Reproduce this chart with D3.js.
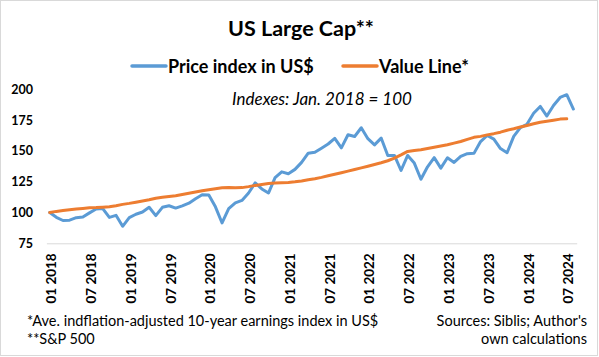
<!DOCTYPE html>
<html>
<head>
<meta charset="utf-8">
<script src="https://cdn.jsdelivr.net/npm/d3@7"></script>
<style>
  html, body { margin: 0; padding: 0; background: #fff; }
  svg { display: block; font-family: Lato, "Open Sans", sans-serif; }
</style>
</head>
<body>
<svg id="chart" width="599" height="357"></svg>
<script>
// ---- data ----
const startMonth = new Date(2018, 0, 1);
const endMonth = new Date(2024, 8, 1);
const months = d3.timeMonth.range(startMonth, endMonth); // Jan 2018 .. Aug 2024 (80)

const priceIndex = [
  100.0, 96.1, 93.5, 93.8, 95.8, 96.3, 99.7, 102.8, 103.2, 96.0, 97.7, 88.8,
  95.8, 98.6, 100.4, 104.3, 97.5, 104.2, 105.5, 103.6, 105.4, 107.6, 111.2, 114.4,
  114.2, 104.6, 91.5, 103.1, 107.8, 109.8, 115.8, 124.0, 119.1, 115.8, 128.3, 133.0,
  131.5, 135.0, 140.7, 148.1, 148.9, 152.2, 155.6, 160.2, 152.5, 163.1, 161.7, 168.8,
  159.9, 154.9, 160.4, 146.3, 146.3, 134.1, 146.3, 140.1, 127.0, 137.1, 144.5, 136.0,
  144.4, 140.6, 145.5, 147.7, 148.0, 157.6, 162.5, 159.6, 151.9, 148.5, 161.8, 168.9,
  171.6, 180.5, 186.1, 178.3, 186.9, 193.4, 195.6, 184.0
];

const valueLine = [
  100.0, 100.9, 101.6, 102.3, 102.8, 103.3, 103.9, 104.0, 104.3, 104.7, 105.5, 106.6,
  107.4, 108.4, 109.3, 110.3, 111.6, 112.3, 113.0, 113.6, 114.6, 115.6, 116.6, 117.6,
  118.5, 119.3, 120.0, 120.3, 120.0, 120.2, 121.0, 122.0, 122.8, 123.6, 124.0, 124.2,
  124.4, 124.9, 125.6, 126.6, 127.4, 128.5, 129.8, 131.0, 132.3, 133.6, 134.9, 136.2,
  137.6, 139.0, 140.4, 142.0, 144.2, 146.8, 149.6, 150.4, 151.0, 152.0, 153.0, 154.0,
  155.0, 156.3, 157.6, 159.4, 161.0, 161.8, 163.0, 164.0, 165.2, 166.8, 168.0, 169.4,
  170.6, 172.0, 173.3, 174.1, 174.9, 175.8, 176.0
];

const seriesNames = ["Price index in US$", "Value Line*"];
const seriesColors = ["#5B9BD5", "#ED7D31"];
const yTicks = [75, 100, 125, 150, 175, 200];
const xTickLabels = ["01 2018", "07 2018", "01 2019", "07 2019", "01 2020", "07 2020",
  "01 2021", "07 2021", "01 2022", "07 2022", "01 2023", "07 2023", "01 2024", "07 2024"];

const titleText = "US Large Cap**";
const subtitleText = "Indexes: Jan. 2018 = 100";
const noteLeft = ["*Ave. indflation-adjusted 10-year earnings index in US$", "**S&P 500"];
const noteRight = ["Sources: Siblis; Author's", "own calculations"];

// ---- drawing ----
const svg = d3.select("#chart");

svg.append("rect")
  .attr("x", 0.5).attr("y", 0.5).attr("width", 597).attr("height", 355)
  .attr("fill", "#fff").attr("stroke", "#d9d9d9");

const x = d3.scalePoint()
  .domain(d3.range(months.length))
  .range([46.4, 576.7])
  .padding(0.5);

const y = d3.scaleLinear().domain([75, 200]).range([243.3, 89.3]);

// title
svg.append("text")
  .attr("x", 301).attr("y", 36)
  .attr("text-anchor", "middle")
  .attr("font-size", 21.5).attr("font-weight", "bold").attr("fill", "#000")
  .text(titleText);

// legend
const legendItems = [
  { x1: 132, x2: 166, tx: 168 },
  { x1: 343, x2: 377, tx: 379 }
];
legendItems.forEach((d, i) => {
  svg.append("line")
    .attr("x1", d.x1).attr("x2", d.x2).attr("y1", 66).attr("y2", 66)
    .attr("stroke", seriesColors[i]).attr("stroke-width", 3.5)
    .attr("stroke-linecap", "round");
  svg.append("text")
    .attr("x", d.tx).attr("y", 72.5)
    .attr("font-size", 18).attr("font-weight", "bold").attr("fill", "#000")
    .text(seriesNames[i]);
});

// subtitle
svg.append("text")
  .attr("x", 322).attr("y", 105)
  .attr("text-anchor", "middle")
  .attr("font-size", 17).attr("font-style", "italic").attr("fill", "#000")
  .text(subtitleText);

// y axis
const yAxis = svg.append("g")
  .attr("transform", "translate(36,0)")
  .call(d3.axisLeft(y).tickValues(yTicks).tickSize(0).tickPadding(3));
yAxis.select(".domain").remove();
yAxis.selectAll("text")
  .attr("font-family", "Lato, sans-serif")
  .attr("font-size", 12.5).attr("font-weight", "bold").attr("fill", "#000");

// x axis
const xAxis = svg.append("g")
  .attr("transform", `translate(0,${y(75)})`)
  .call(d3.axisBottom(x)
    .tickValues(d3.range(0, months.length, 6))
    .tickFormat(i => xTickLabels[i / 6])
    .tickSize(0).tickSizeOuter(0));
xAxis.select(".domain").attr("stroke", "#d9d9d9").attr("stroke-width", 1);
xAxis.selectAll("text")
  .attr("font-family", "Lato, sans-serif")
  .attr("font-size", 13.5).attr("font-weight", "bold").attr("fill", "#000")
  .attr("transform", "rotate(-90)")
  .attr("x", -10).attr("y", 0).attr("dy", "0.45em")
  .style("text-anchor", "end");

// lines
const line = d3.line()
  .x((d, i) => x(i))
  .y(d => y(d));

[priceIndex, valueLine].forEach((s, i) => {
  svg.append("path")
    .datum(s)
    .attr("fill", "none")
    .attr("stroke", seriesColors[i])
    .attr("stroke-width", 3)
    .attr("stroke-linejoin", "round")
    .attr("stroke-linecap", "round")
    .attr("d", line);
});

// footnotes
noteLeft.forEach((t, i) => {
  svg.append("text")
    .attr("x", 27).attr("y", 326 + i * 18)
    .attr("font-size", 14.5).attr("fill", "#000")
    .text(t);
});
noteRight.forEach((t, i) => {
  svg.append("text")
    .attr("x", 587).attr("y", 326 + i * 18)
    .attr("text-anchor", "end")
    .attr("font-size", 14.5).attr("fill", "#000")
    .text(t);
});
</script>
</body>
</html>
